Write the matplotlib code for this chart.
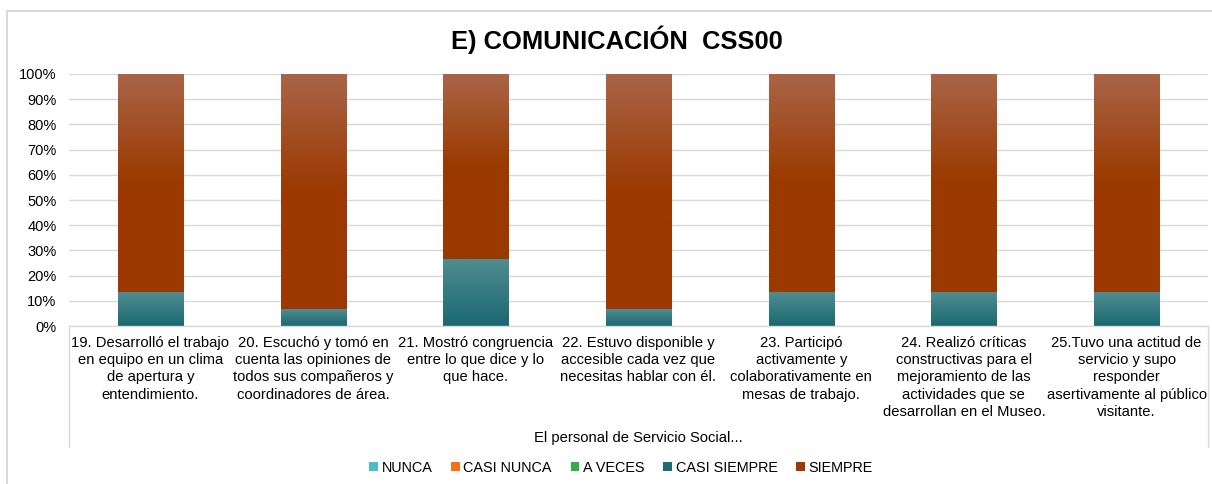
import matplotlib
matplotlib.use("Agg")
import matplotlib.pyplot as plt
import numpy as np
from matplotlib.colors import LinearSegmentedColormap
from matplotlib.patches import Patch
from matplotlib.lines import Line2D

plt.rcParams['font.family'] = ['Liberation Sans', 'DejaVu Sans']

categories = [
    "19. Desarrolló el trabajo\nen equipo en un clima\nde apertura y\nentendimiento.",
    "20. Escuchó y tomó en\ncuenta las opiniones de\ntodos sus compañeros y\ncoordinadores de área.",
    "21. Mostró congruencia\nentre lo que dice y lo\nque hace.",
    "22. Estuvo disponible y\naccesible cada vez que\nnecesitas hablar con él.",
    "23. Participó\nactivamente y\ncolaborativamente en\nmesas de trabajo.",
    "24. Realizó críticas\nconstructivas para el\nmejoramiento de las\nactividades que se\ndesarrollan en el Museo.",
    "25.Tuvo una actitud de\nservicio y supo\nresponder\nasertivamente al público\nvisitante.",
]
series_names = ["NUNCA", "CASI NUNCA", "A VECES", "CASI SIEMPRE", "SIEMPRE"]
nunca = [0, 0, 0, 0, 0, 0, 0]
casi_nunca = [0, 0, 0, 0, 0, 0, 0]
a_veces = [0, 0, 0, 0, 0, 0, 0]
casi_siempre = [13.3, 6.7, 26.7, 6.7, 13.3, 13.3, 13.3]
siempre = [86.7, 93.3, 73.3, 93.3, 86.7, 86.7, 86.7]
y_ticks = [0, 10, 20, 30, 40, 50, 60, 70, 80, 90, 100]

legend_colors = ["#4BBCC8", "#F5701A", "#3AAA4A", "#1E6B75", "#9C3A00"]
# gradient (top, bottom) per series
grad = {
    "NUNCA": ("#7FD0D8", "#4BBCC8"),
    "CASI NUNCA": ("#F8955A", "#F5701A"),
    "A VECES": ("#6CC07A", "#3AAA4A"),
    "CASI SIEMPRE": ("#4F8D90", "#1B6871"),
    "SIEMPRE": ("#A96548", "#9B3900"),
}

W, H = 1212, 484
fig = plt.figure(figsize=(W/100, H/100), dpi=100)
ax = fig.add_axes([69/W, 1-326/H, (1208-69)/W, (326-74)/H])

# outer chart border (only top and left visible)
fig.lines.append(Line2D([7/W, 1.0], [1-11/H, 1-11/H], transform=fig.transFigure,
                        color="#D9D9D9", lw=1.5))
fig.lines.append(Line2D([7/W, 7/W], [0, 1-11/H], transform=fig.transFigure,
                        color="#D9D9D9", lw=1.5))

x = np.arange(len(categories))
data = [nunca, casi_nunca, a_veces, casi_siempre, siempre]
bottom = np.zeros(len(categories))
for name, vals in zip(series_names, data):
    vals = np.array(vals, dtype=float)
    bars = ax.bar(x, vals, width=0.4, bottom=bottom, color="none",
                  edgecolor="none", zorder=2)
    top_c, bot_c = grad[name]
    if name == "SIEMPRE":
        cmap = LinearSegmentedColormap.from_list(
            "g", [(0, bot_c), (0.5, bot_c), (1, top_c)])
    else:
        cmap = LinearSegmentedColormap.from_list("g", [bot_c, top_c])
    for b, v in zip(bars, vals):
        if v <= 0:
            continue
        x0, y0 = b.get_x(), b.get_y()
        w, h = b.get_width(), b.get_height()
        g = np.linspace(0, 1, 256).reshape(-1, 1)
        im = ax.imshow(g, cmap=cmap, origin="lower", aspect="auto",
                       extent=(x0, x0 + w, y0, y0 + h), zorder=2)
        im.set_clip_path(b)
    bottom += vals

ax.set_xlim(-0.5, len(categories) - 0.5)
ax.set_ylim(0, 100)
ax.set_yticks(y_ticks)
ax.set_yticklabels([f"{t}%" for t in y_ticks], fontsize=10.5, color="#000000")
ax.set_xticks(x)
ax.set_xticklabels(categories, fontsize=10.6, linespacing=1.3, va="top")
ax.tick_params(axis="both", length=0)
ax.tick_params(axis="y", pad=9)
ax.tick_params(axis="x", pad=7)
ax.grid(axis="y", color="#D9D9D9", linewidth=1.0, zorder=0)
ax.set_axisbelow(True)
for s in ["top", "right", "left"]:
    ax.spines[s].set_visible(False)
ax.spines["bottom"].set_color("#D9D9D9")
ax.spines["bottom"].set_linewidth(1.0)

# multi-level category box lines
ax.plot([0, 0], [0, -(447-326)/(326-74)], transform=ax.transAxes,
        color="#D9D9D9", lw=1.0, clip_on=False)
ax.plot([1, 1], [0, -(447-326)/(326-74)], transform=ax.transAxes,
        color="#D9D9D9", lw=1.0, clip_on=False)

fig.text((69+1208)/2/W, 1-438/H, "El personal de Servicio Social...",
         ha="center", va="center", fontsize=10.6)

fig.text(617/W, 1-40/H, "E) COMUNICACIÓN  CSS00", ha="center",
         va="center", fontsize=18.4, fontweight="bold")

handles = [Patch(facecolor=c, edgecolor="none") for c in legend_colors]
fig.legend(handles, series_names, loc="center", bbox_to_anchor=(621/W, 1-468/H),
           ncol=5, frameon=False, fontsize=10.4, handlelength=0.6, handleheight=0.6,
           handletextpad=0.25, columnspacing=1.3)

fig.savefig("out.png", dpi=100, facecolor="white")
